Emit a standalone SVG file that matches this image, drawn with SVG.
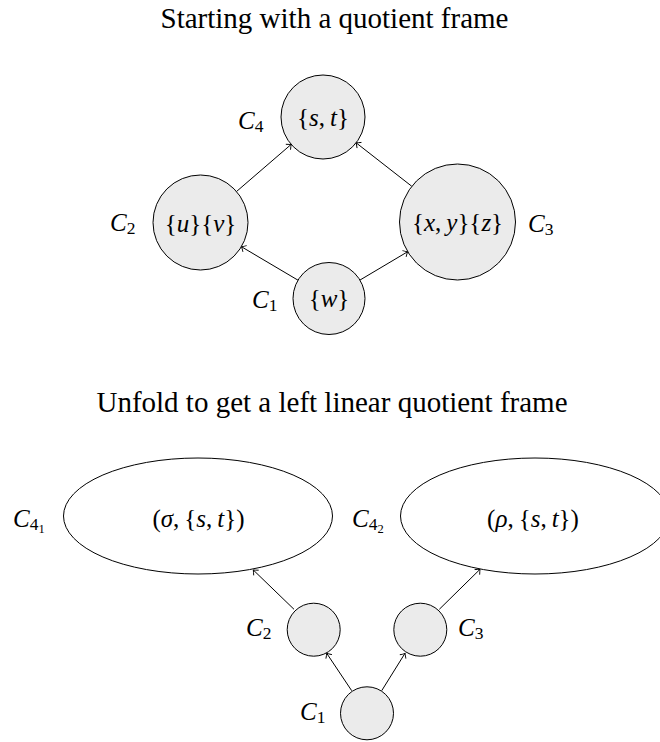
<svg xmlns="http://www.w3.org/2000/svg" width="660" height="742" viewBox="0 0 660 742">
<defs>
<style>
text{font-family:"Liberation Serif","Times New Roman",serif;fill:#000}
.title{font-size:29px;text-anchor:middle}
.m{font-size:25px}
.c{text-anchor:middle}
.i{font-style:italic}
.node{fill:#ebebeb;stroke:#000;stroke-width:1}
.big{fill:#fff;stroke:#000;stroke-width:1}
.edge{fill:none;stroke:#000;stroke-width:1;marker-end:url(#to)}
</style>
<marker id="to" markerUnits="userSpaceOnUse" orient="auto" refX="0" refY="0" markerWidth="10" markerHeight="10" overflow="visible">
<path d="M-4,-3.6 Q-1.4,-1.1 0,0 Q-1.4,1.1 -4,3.6" fill="none" stroke="#000" stroke-width="0.9"/>
</marker>
</defs>

<text class="title" x="334.5" y="28">Starting with a quotient frame</text>
<text class="title" x="332" y="411.5">Unfold to get a left linear quotient frame</text>

<g id="edges">
<line class="edge" x1="236.5" y1="191.5" x2="291.2" y2="144.4"/>
<line class="edge" x1="411.8" y1="186.3" x2="356.1" y2="142.8"/>
<line class="edge" x1="298" y1="280.2" x2="241.4" y2="246.7"/>
<line class="edge" x1="359.9" y1="280.1" x2="407.7" y2="251.7"/>
<line class="edge" x1="294" y1="609.3" x2="253.3" y2="570"/>
<line class="edge" x1="439.3" y1="609.3" x2="480" y2="569.3"/>
<line class="edge" x1="351.7" y1="690.7" x2="326.7" y2="653.3"/>
<line class="edge" x1="381.7" y1="690.7" x2="405" y2="653.3"/>
</g>

<g id="top-C4">
<circle class="node" cx="323" cy="117" r="42"/>
<text class="m c" x="323" y="126">{<tspan class="i">s</tspan>,&#8201;<tspan class="i">t</tspan>}</text>
<text class="m" x="238" y="129"><tspan class="i">C</tspan><tspan font-size="17.5px" dy="3">4</tspan></text>
</g>
<g id="top-C2">
<circle class="node" cx="200.5" cy="222.5" r="47.5"/>
<text class="m c" x="200.5" y="231.5">{<tspan class="i">u</tspan>}{<tspan class="i">v</tspan>}</text>
<text class="m" x="110" y="231"><tspan class="i">C</tspan><tspan font-size="17.5px" dy="3">2</tspan></text>
</g>
<g id="top-C3">
<circle class="node" cx="457.5" cy="222" r="58"/>
<text class="m c" x="457.5" y="231">{<tspan class="i">x</tspan>,&#8201;<tspan class="i">y</tspan>}{<tspan class="i">z</tspan>}</text>
<text class="m" x="528" y="231.5"><tspan class="i">C</tspan><tspan font-size="17.5px" dy="3">3</tspan></text>
</g>
<g id="top-C1">
<circle class="node" cx="329" cy="298.5" r="36"/>
<text class="m c" x="329" y="306.5">{<tspan class="i">w</tspan>}</text>
<text class="m" x="252" y="308"><tspan class="i">C</tspan><tspan font-size="17.5px" dy="3">1</tspan></text>
</g>

<g id="bot-C41">
<ellipse class="big" cx="198" cy="516" rx="134.5" ry="58"/>
<text class="m c" x="198.5" y="527">(<tspan class="i">σ</tspan>,&#8201;{<tspan class="i">s</tspan>,&#8201;<tspan class="i">t</tspan>})</text>
<text class="m" x="13" y="527"><tspan class="i">C</tspan><tspan font-size="17.5px" dy="3">4</tspan><tspan font-size="12.5px" dy="3">1</tspan></text>
</g>
<g id="bot-C42">
<ellipse class="big" cx="535" cy="516" rx="134.5" ry="58"/>
<text class="m c" x="533" y="527">(<tspan class="i">ρ</tspan>,&#8201;{<tspan class="i">s</tspan>,&#8201;<tspan class="i">t</tspan>})</text>
<text class="m" x="352" y="527"><tspan class="i">C</tspan><tspan font-size="17.5px" dy="3">4</tspan><tspan font-size="12.5px" dy="3">2</tspan></text>
</g>
<g id="bot-C2">
<circle class="node" cx="313.7" cy="629.7" r="26.5"/>
<text class="m" x="246" y="636"><tspan class="i">C</tspan><tspan font-size="17.5px" dy="3">2</tspan></text>
</g>
<g id="bot-C3">
<circle class="node" cx="420.3" cy="629.7" r="26.5"/>
<text class="m" x="458" y="636"><tspan class="i">C</tspan><tspan font-size="17.5px" dy="3">3</tspan></text>
</g>
<g id="bot-C1">
<circle class="node" cx="367" cy="713.3" r="26.5"/>
<text class="m" x="300" y="720"><tspan class="i">C</tspan><tspan font-size="17.5px" dy="3">1</tspan></text>
</g>
</svg>
